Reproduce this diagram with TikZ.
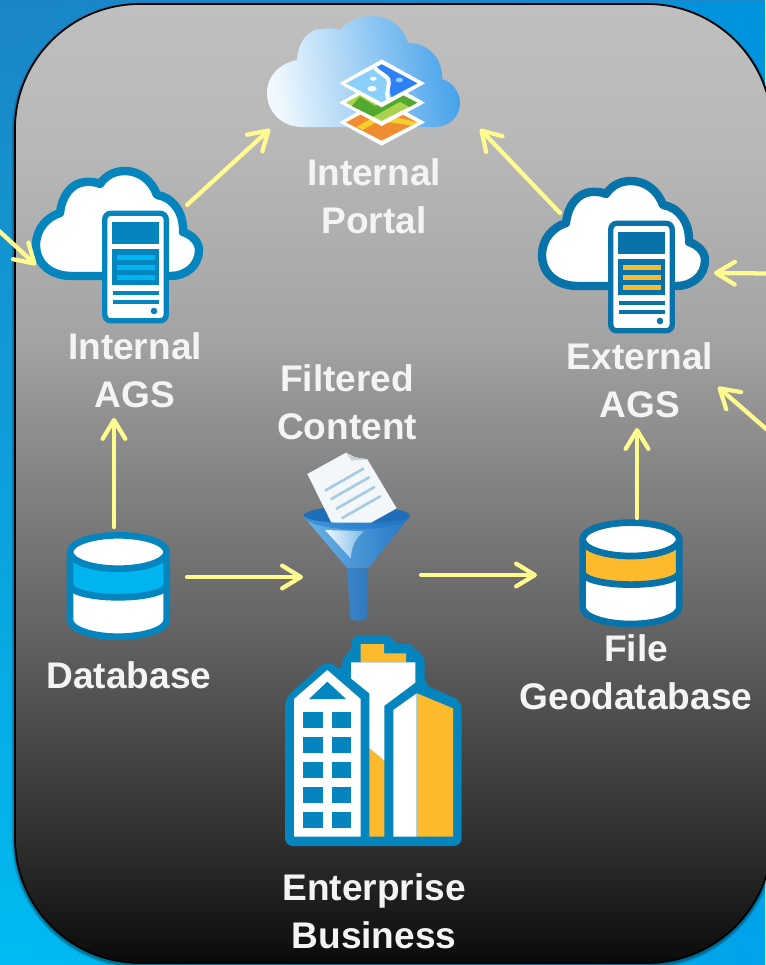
\documentclass[tikz,border=0pt]{standalone}
\usepackage{fontspec}
\setmainfont{Liberation Sans}
\usetikzlibrary{arrows.meta,fadings,shapes.geometric}
\definecolor{flowc}{HTML}{FFFB8E}
\definecolor{labc}{HTML}{F4F4F4}
\definecolor{blueA}{HTML}{0585BE}
\definecolor{blueB}{HTML}{0873A8}
\definecolor{cyanA}{HTML}{00B4F0}
\definecolor{amberA}{HTML}{FDBA2C}
\definecolor{bgTL}{HTML}{1C86C6}
\definecolor{bgBL}{HTML}{00BCF2}
\definecolor{bgTR}{HTML}{0094DE}
\definecolor{bgBR}{HTML}{00A4EA}
\definecolor{mapSky}{HTML}{8AD0FB}
\definecolor{mapBlue}{HTML}{2F7FF5}
\definecolor{mapLime}{HTML}{A9D24F}
\definecolor{mapGreen}{HTML}{53A92F}
\definecolor{mapOrange}{HTML}{F28C32}
\definecolor{mapYellow}{HTML}{F3D02E}
\definecolor{cloudL}{HTML}{F2F9FE}
\definecolor{cloudR}{HTML}{45A2EA}
\definecolor{fnlDark}{HTML}{1F6FB8}
\definecolor{fnlLip}{HTML}{3F95DC}
\definecolor{fnlLipR}{HTML}{1E74C0}
\definecolor{fnlL}{HTML}{6DB4E8}
\definecolor{fnlR}{HTML}{2577C4}
\definecolor{fnlHi}{HTML}{F0F7FC}
\definecolor{fnlHiR}{HTML}{7FBDEA}
\definecolor{spL}{HTML}{3A84C8}
\definecolor{spM}{HTML}{78B6E8}
\definecolor{spR}{HTML}{3079BC}
\definecolor{paper}{HTML}{F3F7FA}
\definecolor{paperFold}{HTML}{C8D3DC}
\definecolor{paperLine}{HTML}{A9CBE2}
\pgfdeclareverticalshading{panelshade}{100bp}{
 color(0bp)=(black!96!white);
 color(25bp)=(black!96!white);
 color(30.63bp)=(black!83!white);
 color(34.54bp)=(black!76!white);
 color(41.84bp)=(black!62!white);
 color(55.40bp)=(black!40!white);
 color(57.49bp)=(black!36!white);
 color(67.4bp)=(black!28!white);
 color(75bp)=(black!25!white);
 color(100bp)=(black!25!white)}
\tikzset{
 iconbox/.style={inner sep=0pt,outer sep=0pt},
 lab/.style={inner sep=0pt,align=center,text=labc,font=\fontsize{27.8}{36}\selectfont\bfseries},
 flow/.style={draw=flowc,line width=3.2pt,line cap=round,-{Straight Barb[round,length=14pt,width=17pt,line width=3.2pt]}}
}
\newcommand{\srvcloud}[4]{%
\begin{scope}[shift={(#1,#2)}]
 \draw[draw=#3,fill=white,line width=6.3pt,line join=round]
  (72,276) .. controls (50,276) and (36,263) .. (36,245)
  .. controls (36,229) and (47,217) .. (60,213)
  .. controls (62,195) and (72,183) .. (85,182) .. controls (90,181.5) and (96,182) .. (100,184)
  .. controls (106,175) and (115,171) .. (125,171) .. controls (140,171) and (152,181) .. (157,195)
  .. controls (172,197) and (184,212) .. (183,232)
  .. controls (192,235) and (199,242) .. (199,250) .. controls (199,265) and (187,276) .. (170,276) -- cycle;
 \draw[draw=#3,fill=white,line width=4pt,rounded corners=4.5pt] (104.8,213.3) rectangle (166.2,320.8);
 \fill[#3] (112,222.3) rectangle (159.3,244);
 \fill[#3] (112,249.3) rectangle (159.3,285);
 \fill[#4] (116.7,255) rectangle (154.7,260);
 \fill[#4] (116.7,265) rectangle (154.7,270);
 \fill[#4] (116.7,275.3) rectangle (154.7,280.3);
 \fill[#3] (112.7,290.7) rectangle (158.7,294.7);
 \fill[#3] (112.7,300) rectangle (158.7,304);
 \fill[#3] (154,311) circle[radius=3.3];
\end{scope}}
\newcommand{\cylicon}[4]{%
\begin{scope}[shift={(#1,#2)}]
 \fill[white] (70,552) -- (70,620) .. controls (70,629.2) and (91.6,636.7) .. (118.3,636.7)
   .. controls (145,636.7) and (166.7,629.2) .. (166.7,620) -- (166.7,552) -- cycle;
 \fill[#4] (70,552) .. controls (70,561) and (91.6,568.7) .. (118.3,568.7) .. controls (145,568.7) and (166.7,561) .. (166.7,552)
   -- (166.7,585) .. controls (166.7,592) and (145,597.3) .. (118.3,597.3) .. controls (91.6,597.3) and (70,592) .. (70,585) -- cycle;
 \draw[#3,line width=5pt,line join=round] (70,552) -- (70,620) .. controls (70,629.2) and (91.6,636.7) .. (118.3,636.7)
   .. controls (145,636.7) and (166.7,629.2) .. (166.7,620) -- (166.7,552);
 \draw[#3,line width=5pt] (70,585) .. controls (70,592) and (91.6,597.3) .. (118.3,597.3) .. controls (145,597.3) and (166.7,592) .. (166.7,585);
 \draw[#3,fill=white,line width=5pt] (118.35,552) ellipse[x radius=48.35,y radius=16.7];
\end{scope}}
\begin{document}
\begin{tikzpicture}[x=0.75pt,y=-0.75pt]
\useasboundingbox (0,0) rectangle (765,965);
% backdrop
\shade[top color=bgTL,bottom color=bgBL] (0,0) rectangle (765,965);
\shade[top color=bgTR,bottom color=bgBR,path fading=west] (0,0) rectangle (765,965);
% panel shadow
\foreach \w/\o in {5/0.10,3.5/0.14,2/0.18}{
 \draw[black,opacity=\o,line width=\w pt,rounded corners=93.75pt] (15,6) rectangle (772,965);}
% panel
\draw[black,line width=1.3pt,shading=panelshade,rounded corners=93.75pt] (15,4) rectangle (772,963);

% invisible node frames
\node[iconbox,minimum width=145pt,minimum height=85pt] (portal) at (363.5,71.5) {};
\node[iconbox,minimum width=129pt,minimum height=118pt] (iags) at (118,246) {};
\node[iconbox,minimum width=129pt,minimum height=118pt] (eags) at (624,256) {};
\node[iconbox,minimum width=77pt,minimum height=81pt] (db) at (118.5,586) {};
\node[iconbox,minimum width=78pt,minimum height=80pt] (fg) at (631,573.5) {};
\node[iconbox,minimum width=81pt,minimum height=129pt] (funnel) at (357,536) {};
\node[iconbox,minimum width=133pt,minimum height=160pt] (ent) at (373.5,741.5) {};

% portal cloud
\path[left color=cloudL,right color=cloudR,shading angle=98]
  (302,127) .. controls (282,127) and (267,112) .. (267,93)
  .. controls (267,76) and (280,63) .. (297,60)
  .. controls (298,42) and (308,29) .. (322,29) .. controls (329,28) and (335,28) .. (340,30)
  .. controls (347,21) and (359,16) .. (372,16) .. controls (390,16) and (403,27) .. (408,43)
  .. controls (428,43) and (443,58) .. (442,79)
  .. controls (452,82) and (460,92) .. (460,103) .. controls (460,117) and (449,127) .. (435,127) -- cycle;
\begin{scope}[shift={(260,0)},x=0.25pt,y=-0.25pt]
 \fill[white] (365,294) -- (495,367) -- (365,437) -- (238,367) -- cycle;
 \fill[mapOrange] (365,310) -- (472,367) -- (365,422) -- (258,367) -- cycle;
 \fill[mapYellow] (290,380) -- (345,350) -- (400,350) -- (472,367) -- (455,376) -- (395,368) -- (345,368) -- (308,390) -- cycle;
 \fill[white] (365,236) -- (495,308) -- (365,378) -- (238,308) -- cycle;
 \fill[mapLime] (365,250) -- (472,308) -- (365,363) -- (258,308) -- cycle;
 \fill[mapGreen] (275,318) -- (300,290) -- (345,318) -- (425,285) -- (472,308) -- (448,321) -- (420,305) -- (340,350) -- cycle;
 \fill[white] (365,178) -- (495,250) -- (365,322) -- (238,250) -- cycle;
 \fill[mapSky] (365,193) -- (472,250) -- (365,307) -- (258,250) -- cycle;
 \fill[mapBlue] (345,204) -- (365,193) -- (472,250) -- (395,291) .. controls (385,275) and (392,255) .. (385,238) .. controls (378,225) and (358,220) .. (345,204) -- cycle;
 \draw[white,line width=3pt] (345,204) .. controls (358,220) and (378,225) .. (385,238) .. controls (392,255) and (375,270) .. (385,298);
 \fill[white] (340,236) ellipse[x radius=10,y radius=6];
 \fill[white] (336,266) ellipse[x radius=14,y radius=8];
 \fill[mapSky] (418,240) ellipse[x radius=11,y radius=7];
\end{scope}

% servers
\srvcloud{0}{0}{blueA}{cyanA}
\srvcloud{506}{10}{blueB}{amberA}

% cylinders
\cylicon{0}{0}{blueA}{cyanA}
\cylicon{512.6}{-12.7}{blueB}{amberA}

% funnel
\begin{scope}[shift={(290,440)},x=0.25pt,y=-0.25pt]
 \fill[fnlDark] (200,228) ellipse[x radius=160,y radius=30];
 \fill[paper] (52,102) -- (168,38) -- (195,52) -- (232,58) -- (320,205) -- (150,300) -- cycle;
 \fill[paperFold] (168,38) -- (195,52) -- (232,58) -- (185,62) -- cycle;
 \foreach \a/\b in {105/152,122/178,138/207,155/235}{
  \draw[paperLine,line width=2pt] (\a,\b) -- ++(117,-67);}
 \shade[left color=fnlL,right color=fnlR]
   (40,228) .. controls (55,255) and (130,265) .. (200,265) .. controls (270,265) and (345,255) .. (360,228)
   -- (235,385) -- (172,385) -- cycle;
 \shade[left color=fnlLip,right color=fnlLipR]
   (40,228) .. controls (70,250) and (140,248) .. (200,248) .. controls (260,248) and (330,250) .. (360,228)
   .. controls (345,258) and (270,268) .. (200,268) .. controls (130,268) and (55,258) .. (40,228) -- cycle;
 \shade[left color=fnlHi,right color=fnlHiR]
   (105,270) -- (222,274) .. controls (195,295) and (185,320) .. (182,355) -- cycle;
 \shade[left color=spL,middle color=spM,right color=spR]
   (172,385) -- (235,385) -- (230,535) .. controls (218,545) and (190,545) .. (180,535) -- cycle;
\end{scope}

% enterprise building
\begin{scope}[shift={(270,630)},x=0.25pt,y=-0.25pt]
 \fill[blueA,rounded corners=6pt] (45,205) -- (172,90) -- (217,125) -- (217,72) -- (245,72) -- (245,15) -- (368,15) -- (368,42) -- (435,42) -- (435,70) -- (464,70) -- (464,165) -- (575,212) -- (575,648) -- (45,648) -- cycle;
 \fill[white] (72,207) -- (172,120) -- (272,207) -- (272,620) -- (72,620) -- cycle;
 \fill[blueA] (117,207) -- (172,155) -- (228,207) -- cycle;
 \foreach \r in {247,322,397,472,546}{
  \fill[blueA] (100,\r) rectangle ++(58,48);
  \fill[blueA] (186,\r) rectangle ++(58,48);}
 \fill[amberA] (272,42) -- (342,42) -- (342,70) -- (408,70) -- (408,97) -- (272,97) -- cycle;
 \fill[white] (243,97) -- (436,97) -- (436,158) -- (343,227) -- (343,392) -- (298,355) -- (298,190) -- (243,145) -- cycle;
 \fill[amberA] (298,355) -- (343,392) -- (343,620) -- (298,620) -- cycle;
 \fill[white] (370,240) -- (440,190) -- (440,620) -- (370,620) -- cycle;
 \fill[amberA] (441,190) -- (549,235) -- (549,620) -- (441,620) -- cycle;
\end{scope}

% labels
\node[lab] (plab) at (374,196) {Internal\\Portal};
\node[lab] (ilab) at (135,370) {Internal\\AGS};
\node[lab] (elab) at (640,380) {External\\AGS};
\node[lab] (flab) at (347,402) {Filtered\\Content};
\node[lab] (dblab) at (129,675) {Database};
\node[lab] (gdblab) at (636,672) {File\\Geodatabase};
\node[lab] (entlab) at (374,911) {Enterprise\\Business};

% free ends
\coordinate (offleft) at (-3,229);
\coordinate (offright) at (770,273.5);
\coordinate (offrightb) at (772,434);

% connectors
\draw[flow] ([shift={(69,-41)}]iags.center) -- ([shift={(-93.5,57.5)}]portal.center);
\draw[flow] ([shift={(-64,-43)}]eags.center) -- ([shift={(116.5,57.5)}]portal.center);
\draw[flow] ([shift={(-4.5,-59)}]db.center) -- ([shift={(-21,48)}]ilab.center);
\draw[flow] ([shift={(6,-55.5)}]fg.center) -- ([shift={(-3,48)}]elab.center);
\draw[flow] ([shift={(68.5,-9)}]db.center) -- ([shift={(-54,41)}]funnel.center);
\draw[flow] ([shift={(64,39)}]funnel.center) -- ([shift={(-94,1.5)}]fg.center);
\draw[flow] (offleft) -- ([shift={(-82,19)}]iags.center);
\draw[flow] (offright) -- ([shift={(90,17)}]eags.center);
\draw[flow] (offrightb) -- ([shift={(78,7)}]elab.center);
\end{tikzpicture}
\end{document}
